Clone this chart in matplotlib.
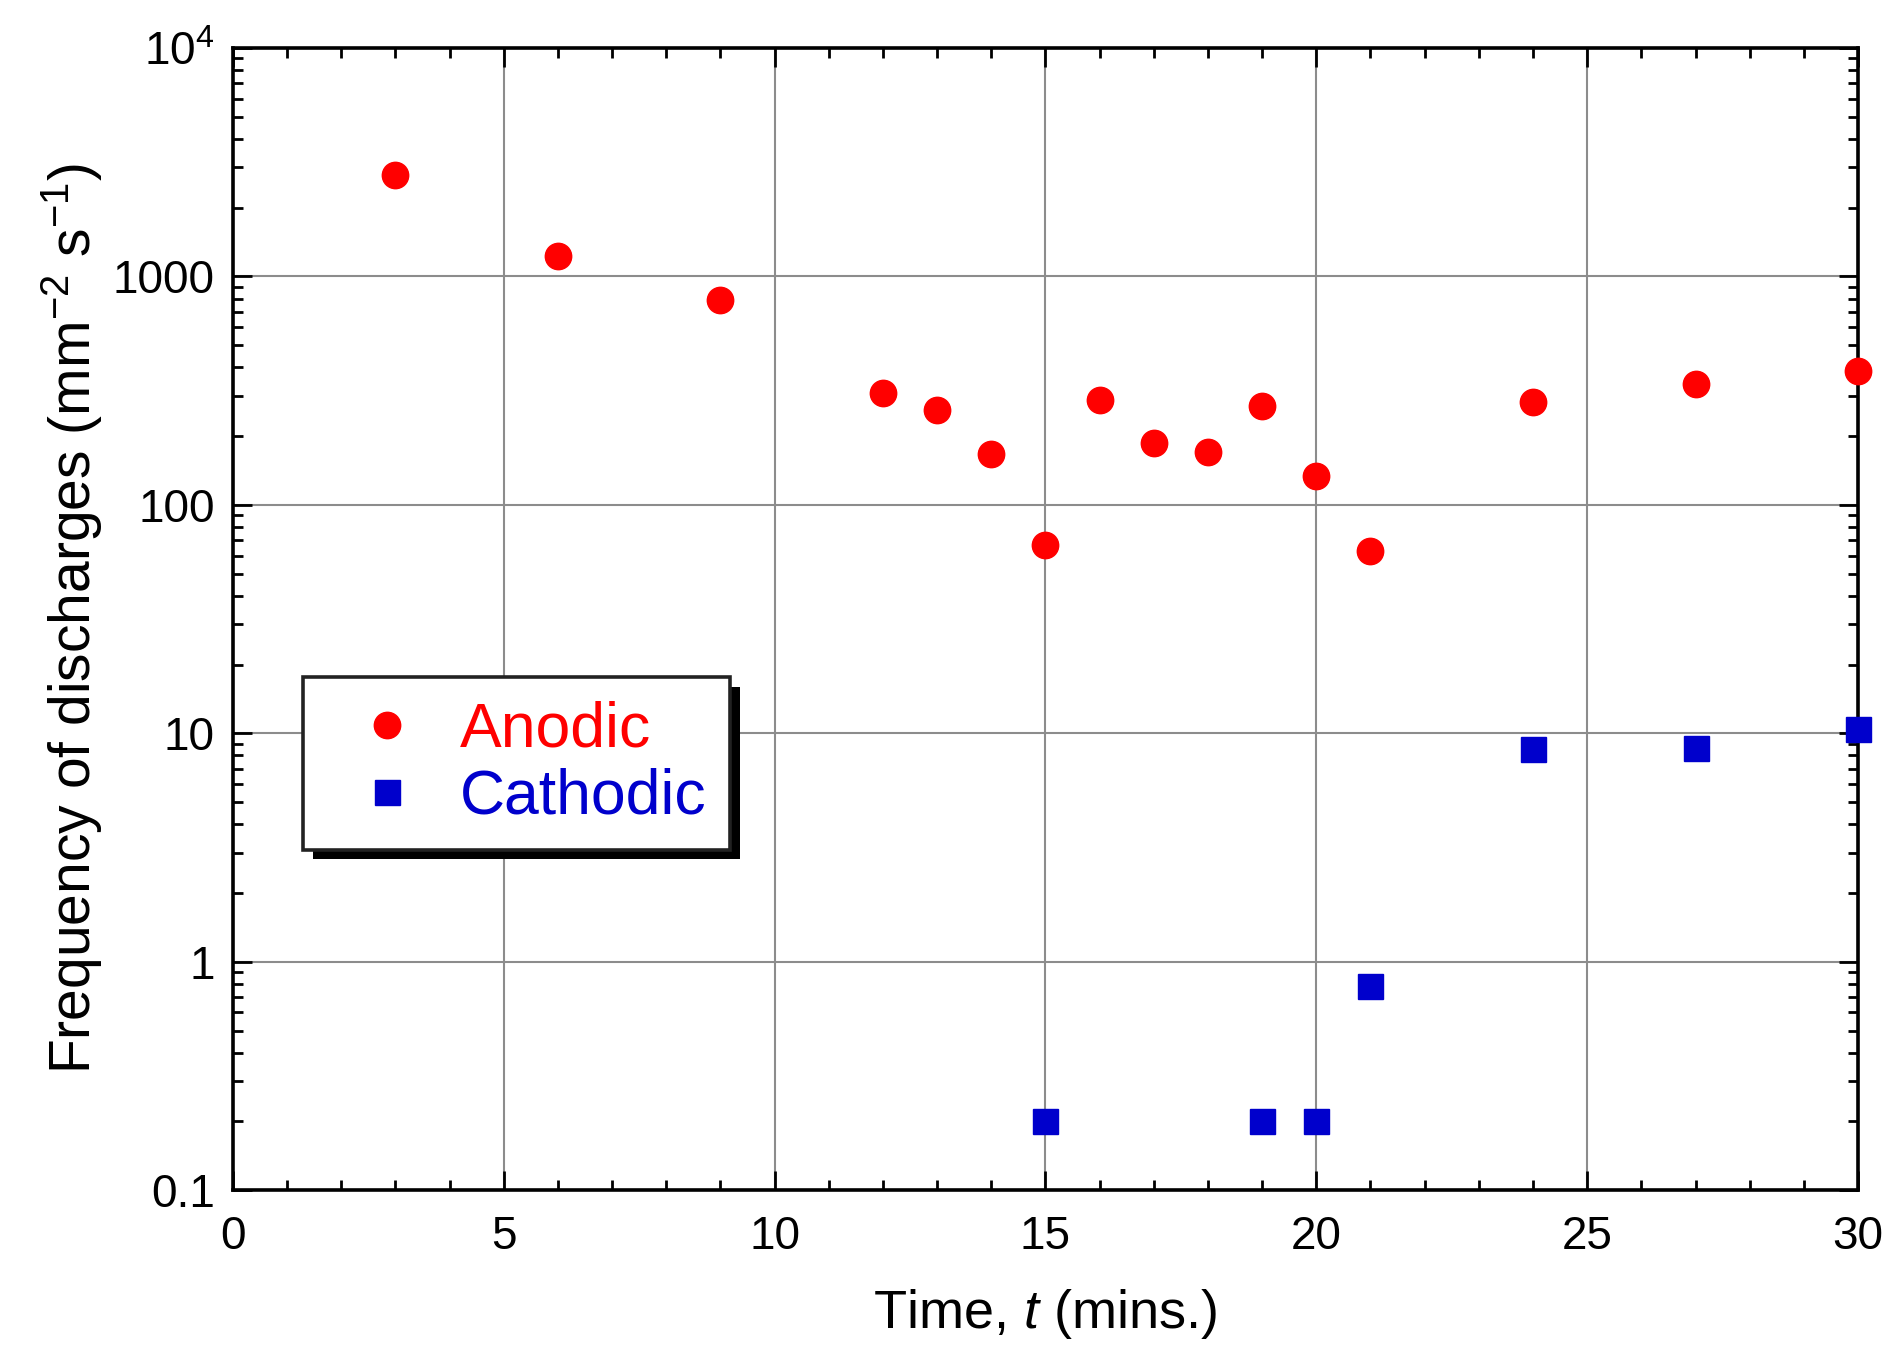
import matplotlib
matplotlib.use('Agg')
from matplotlib import pyplot as plt
from matplotlib import patheffects as pe
from matplotlib.ticker import FixedLocator, FixedFormatter, MultipleLocator, LogLocator, NullFormatter

plt.rcParams['font.family'] = ['Liberation Sans', 'DejaVu Sans']
plt.rcParams['mathtext.fontset'] = 'custom'
plt.rcParams['mathtext.rm'] = 'Liberation Sans'
plt.rcParams['mathtext.it'] = 'Liberation Sans:italic'

# data
anodic_t = [3, 6, 9, 12, 13, 14, 15, 16, 17, 18, 19, 20, 21, 24, 27, 30]
anodic_f = [2780, 1230, 790, 310, 260, 167, 67, 288, 186, 171, 271, 134, 63, 282, 338, 387]
cathodic_t = [15, 19, 20, 21, 24, 27, 30]
cathodic_f = [0.2, 0.2, 0.2, 0.78, 8.5, 8.6, 10.4]
ytick_vals = [0.1, 1, 10, 100, 1000, 1e4]
ytick_labels = ['0.1', '1', '10', '100', '1000', '$10^4$']

fig = plt.figure(figsize=(18.94, 13.51), dpi=100)
ax = fig.add_axes([0.123, 0.119, 0.858, 0.8455])

ax.plot(anodic_t, anodic_f, 'o', color='#ff0000', markersize=19, label='Anodic', clip_on=False, zorder=5)
ax.plot(cathodic_t, cathodic_f, 's', color='#0000cc', markersize=18, label='Cathodic', clip_on=False, zorder=5)

ax.set_yscale('log')
ax.set_xlim(0, 30)
ax.set_ylim(0.1, 1e4)

ax.xaxis.set_major_locator(MultipleLocator(5))
ax.xaxis.set_minor_locator(MultipleLocator(1))
ax.yaxis.set_major_locator(FixedLocator(ytick_vals))
ax.yaxis.set_major_formatter(FixedFormatter(ytick_labels))
ax.yaxis.set_minor_locator(LogLocator(base=10, subs=range(2, 10)))
ax.yaxis.set_minor_formatter(NullFormatter())

ax.grid(True, which='major', color='#8c8c8c', linewidth=1.5)
ax.set_axisbelow(True)

for s in ax.spines.values():
    s.set_linewidth(2.6)
ax.tick_params(which='both', direction='in', top=True, right=True, width=2)
ax.tick_params(which='major', length=14, labelsize=33)
ax.tick_params(axis='x', which='major', pad=18)
ax.tick_params(axis='y', which='major', pad=13)
ax.tick_params(which='minor', length=7)

ax.set_xlabel('Time, $t$ (mins.)', fontsize=39, labelpad=20)
ax.set_ylabel('Frequency of discharges (mm$^{-2}$ s$^{-1}$)', fontsize=41, labelpad=6)

leg = ax.legend(loc='upper left', bbox_to_anchor=(0.043, 0.449), borderaxespad=0,
                fontsize=45, fancybox=False, edgecolor='#222222', framealpha=1,
                borderpad=0.37, handletextpad=0.2, labelspacing=0.13, handlelength=1.95)
leg.get_frame().set_linewidth(2.6)
leg.get_frame().set_path_effects([pe.SimplePatchShadow(offset=(7, -7), shadow_rgbFace='k', alpha=1), pe.Normal()])
for text, col in zip(leg.get_texts(), ['#ff0000', '#0000cc']):
    text.set_color(col)

fig.savefig('out.png', dpi=100)
